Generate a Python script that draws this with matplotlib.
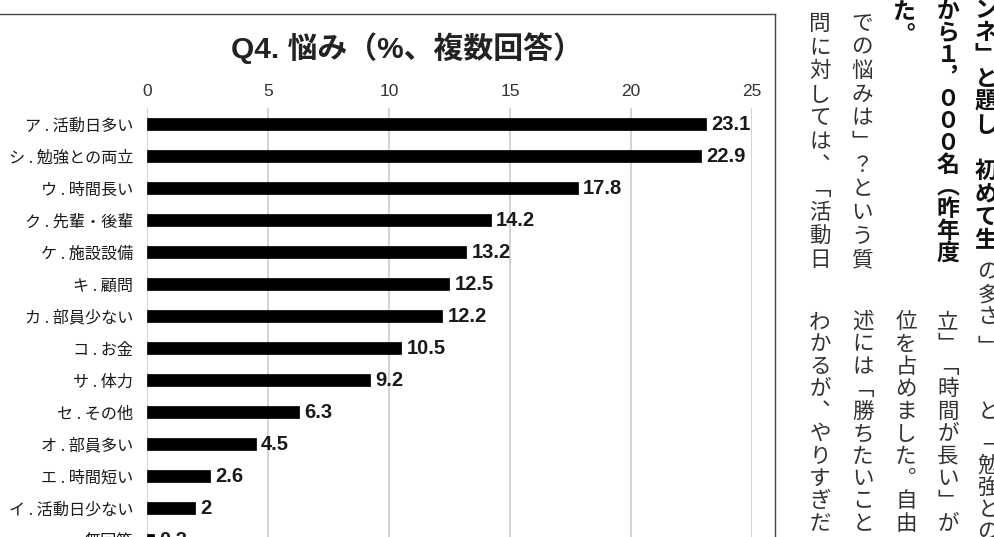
import matplotlib
matplotlib.use('Agg')
import matplotlib.pyplot as plt
from matplotlib.lines import Line2D

W, H = 995, 537

# chart data (top to bottom)
labels = ['ア . 活動日多い', 'シ . 勉強との両立', 'ウ . 時間長い', 'ク . 先輩・後輩',
          'ケ . 施設設備', 'キ . 顧問', 'カ . 部員少ない', 'コ . お金', 'サ . 体力',
          'セ . その他', 'オ . 部員多い', 'エ . 時間短い', 'イ . 活動日少ない', '無回答']
values = [23.1, 22.9, 17.8, 14.2, 13.2, 12.5, 12.2, 10.5, 9.2, 6.3, 4.5, 2.6, 2, 0.3]
xticks = [0, 5, 10, 15, 20, 25]
title = 'Q4. 悩み（%、複数回答）'

# article text beside the chart (vertical columns)
head_a = 'ンネ」と題し　初めて生'
head_b = 'から1，000名（昨年度'
head_c = 'た。'
body_top = ['での悩みは」？という質', '問に対しては、「活動日']
body_a = 'の多さ」と「勉強との'
body_rest = ['立」「時間が長い」が', '位を占めました。自由', '述には「勝ちたいこと', 'わかるが、やりすぎだ']

cjk = ['Noto Sans CJK JP', 'DejaVu Sans']
latin = ['Liberation Sans', 'Noto Sans CJK JP', 'DejaVu Sans']

fig = plt.figure(figsize=(W / 100, H / 100), dpi=100)
fig.patch.set_facecolor('white')

def px(x, y):
    return x / W, 1 - y / H

# chart frame
fig.add_artist(Line2D([0, 775 / W], [1 - 14 / H] * 2, color='#444', lw=1.0))
fig.add_artist(Line2D([775 / W] * 2, [1 - 14 / H, 0], color='#444', lw=1.0))

fig.text(*px(407, 48), title, ha='center', va='center', fontsize=21.5,
         fontweight='bold', family=latin, color='#222')

ax = fig.add_axes([147 / W, (H - 556) / H, 605 / W, 448 / H])
n = len(values)
pos = list(range(n))
ax.barh(pos, values, height=0.39, color='black', edgecolor='#111', linewidth=0.6, zorder=3)
ax.set_xlim(0, 25)
ax.set_ylim(n - 0.5, -0.5)
ax.xaxis.tick_top()
ax.set_xticks(xticks)
ax.set_xticklabels([str(t) for t in xticks], fontsize=12.5, family=latin, color='#333')
ax.set_yticks(pos)
ax.set_yticklabels(labels, fontsize=11.6, family=cjk, color='#1a1a1a')
ax.tick_params(axis='x', length=0, pad=6.5)
ax.tick_params(axis='y', length=0, pad=10)
ax.grid(axis='x', color='#c8c8c8', lw=1.1, zorder=0)
ax.set_axisbelow(True)
for s in ax.spines.values():
    s.set_visible(False)
ax.patch.set_alpha(0)

for i, v in enumerate(values):
    ax.annotate(f'{v:g}', (v, i), xytext=(3.8, 0), textcoords='offset points',
                ha='left', va='center', fontsize=14.5, fontweight='bold',
                family=latin, color='#1a1a1a', annotation_clip=False)

# vertical text: map to vertical presentation forms
VERT = {'「': '﹁', '」': '﹂', '、': '︑', '。': '︒', '（': '︵', '）': '︶',
        '，': '︐', '1': '１', '0': '０'}

def vcol(x, y0, pitch, s, size, weight='normal', color='#222', ys=None):
    em = size * 100 / 72
    for k, ch in enumerate(s):
        y = ys[k] if ys is not None else y0 + k * pitch
        if ch == '　':
            continue
        fig.text(*px(x, y + 0.38 * em), VERT.get(ch, ch), ha='center', va='baseline',
                 fontsize=size, fontweight=weight, family=cjk, color=color)

vcol(986, 8, 23.0, head_a, 16.5, 'bold', '#111')
vcol(948, 9, 22.0, head_b, 16.5, 'bold', '#111')
vcol(904, 11, 22, head_c, 16.5, 'bold', '#111')

vcol(862, 22, 23.6, body_top[0], 15.5, color='#333')
vcol(820, 22, 23.6, body_top[1], 15.5, color='#333')

vcol(988, 0, 0, body_a, 15.5, color='#333',
     ys=[270, 293, 315, 345, 410, 440, 463, 486, 508, 530])
for x, s in zip([948, 906, 863, 820], body_rest):
    vcol(x, 320, 22.4, s, 15.5, color='#333')

fig.savefig('out.png', dpi=100)
